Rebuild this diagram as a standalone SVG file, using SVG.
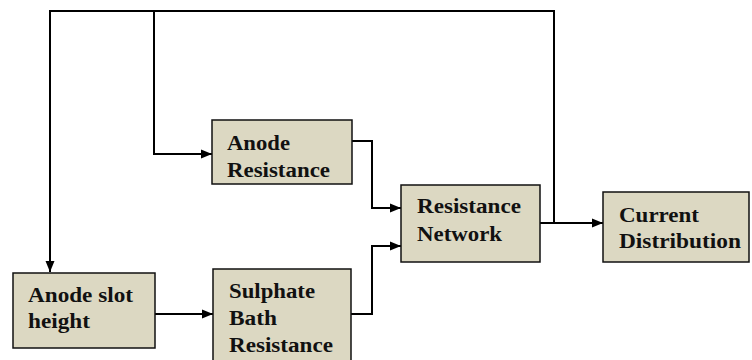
<svg xmlns="http://www.w3.org/2000/svg" width="752" height="360" viewBox="0 0 752 360">
<style>
.box{fill:#DCD8C2;stroke:#111;stroke-width:1.5}
.t{font-family:"Liberation Serif","Times New Roman",serif;font-weight:bold;font-size:20px;fill:#111}
.c{fill:none;stroke:#000;stroke-width:2}
</style>
<defs>
<marker id="ah" markerUnits="userSpaceOnUse" markerWidth="12" markerHeight="10" refX="11" refY="5" orient="auto">
<path d="M0,0.5 L11,5 L0,9.5 z" fill="#000"/>
</marker>
</defs>
<rect width="752" height="360" fill="#fff"/>
<g id="connectors">
<path class="c" d="M540,223 L603,223" marker-end="url(#ah)"/>
<path class="c" d="M554,223 L554,11 L50,11 L50,272" marker-end="url(#ah)"/>
<path class="c" d="M154,11 L154,154 L212,154" marker-end="url(#ah)"/>
<path class="c" d="M352,141 L372,141 L372,208 L401,208" marker-end="url(#ah)"/>
<path class="c" d="M351,314 L372,314 L372,246 L401,246" marker-end="url(#ah)"/>
<path class="c" d="M155,314 L213,314" marker-end="url(#ah)"/>
</g>
<g id="anode-resistance">
<rect class="box" x="212" y="120" width="140" height="64"/>
<text class="t" x="227" y="150" textLength="63" lengthAdjust="spacingAndGlyphs">Anode</text>
<text class="t" x="227" y="177" textLength="103" lengthAdjust="spacingAndGlyphs">Resistance</text>
</g>
<g id="resistance-network">
<rect class="box" x="401" y="185" width="139" height="77"/>
<text class="t" x="417" y="213" textLength="104" lengthAdjust="spacingAndGlyphs">Resistance</text>
<text class="t" x="417" y="241" textLength="85" lengthAdjust="spacingAndGlyphs">Network</text>
</g>
<g id="current-distribution">
<rect class="box" x="603" y="192" width="146" height="70"/>
<text class="t" x="619" y="222" textLength="80" lengthAdjust="spacingAndGlyphs">Current</text>
<text class="t" x="619" y="248" textLength="122" lengthAdjust="spacingAndGlyphs">Distribution</text>
</g>
<g id="anode-slot-height">
<rect class="box" x="13" y="273" width="142" height="75"/>
<text class="t" x="28" y="302" textLength="105" lengthAdjust="spacingAndGlyphs">Anode slot</text>
<text class="t" x="28" y="328" textLength="62" lengthAdjust="spacingAndGlyphs">height</text>
</g>
<g id="sulphate-bath-resistance">
<rect class="box" x="213" y="269" width="138" height="95"/>
<text class="t" x="229" y="298" textLength="86" lengthAdjust="spacingAndGlyphs">Sulphate</text>
<text class="t" x="229" y="325" textLength="48" lengthAdjust="spacingAndGlyphs">Bath</text>
<text class="t" x="229" y="352" textLength="104" lengthAdjust="spacingAndGlyphs">Resistance</text>
</g>
</svg>
